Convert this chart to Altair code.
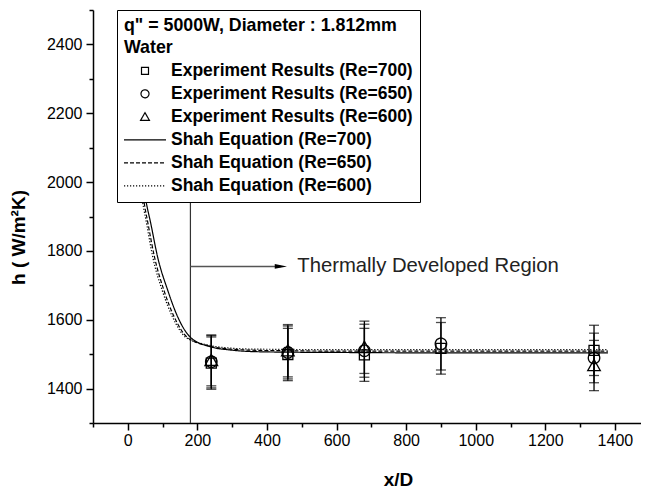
import altair as alt
import pandas as pd

# ---------------- data ----------------
series_names = [
    "Experiment Results (Re=700)",
    "Experiment Results (Re=650)",
    "Experiment Results (Re=600)",
    "Shah Equation (Re=700)",
    "Shah Equation (Re=650)",
    "Shah Equation (Re=600)",
]

exp_x_700 = [240, 460, 680, 900, 1340]
exp_h_700 = [1474, 1499, 1498, 1517, 1511]
exp_e_700 = [76, 76, 77, 75, 73]

exp_x_650 = [240, 460, 680, 900, 1340]
exp_h_650 = [1478, 1505, 1510, 1530, 1489]
exp_e_650 = [76, 77, 77, 76, 72]

exp_x_600 = [240, 460, 680, 1340]
exp_h_600 = [1482, 1510, 1520, 1467]
exp_e_600 = [74, 76, 76, 73]

shah_x_700 = [0, 10, 20, 30, 40, 52, 66, 86, 115, 144, 181, 239, 296, 345, 440, 600, 800, 1000, 1200, 1380]
shah_h_700 = [2600, 2380, 2220, 2110, 2030, 1947, 1880, 1781, 1685, 1607, 1548, 1521, 1512, 1508, 1506, 1505, 1504, 1504, 1504, 1504]

shah_x_650 = [-4, 6, 16, 26, 36, 46, 58, 77, 104, 134, 172, 232, 292, 345, 440, 600, 800, 1000, 1200, 1380]
shah_h_650 = [2600, 2380, 2220, 2110, 2030, 1947, 1880, 1781, 1685, 1607, 1548, 1524, 1515, 1512, 1510, 1509, 1509, 1509, 1509, 1509]

shah_x_600 = [-8, 2, 12, 22, 32, 42, 54, 72, 99, 129, 168, 228, 290, 345, 440, 600, 800, 1000, 1200, 1380]
shah_h_600 = [2600, 2380, 2220, 2110, 2030, 1947, 1880, 1781, 1685, 1607, 1548, 1527, 1518, 1515, 1514, 1513, 1513, 1513, 1513, 1513]

boundary_x = [180]
arrow_x = [180, 440]
arrow_h = [1755]
note_text = ["Thermally Developed Region"]
note_x = [487]

x_major = [0, 200, 400, 600, 800, 1000, 1200, 1400]
x_minor = [-100, 100, 300, 500, 700, 900, 1100, 1300, 1500]
y_major = [1400, 1600, 1800, 2000, 2200, 2400]
y_minor = [1300, 1500, 1700, 1900, 2100, 2300, 2500]

legend_title = ['q" = 5000W, Diameter : 1.812mm', "Water"]

# ---------------- tables ----------------
rows = []
for name, xs_, hs, es in [
    (series_names[0], exp_x_700, exp_h_700, exp_e_700),
    (series_names[1], exp_x_650, exp_h_650, exp_e_650),
    (series_names[2], exp_x_600, exp_h_600, exp_e_600),
]:
    for x, h, e in zip(xs_, hs, es):
        rows.append({"series": name, "x": x, "h": h, "lo": h - e, "hi": h + e})
exp_df = pd.DataFrame(rows)
cap_df = pd.concat([
    exp_df[["series", "x", "lo"]].rename(columns={"lo": "c"}),
    exp_df[["series", "x", "hi"]].rename(columns={"hi": "c"}),
])

lrows = []
for name, xs_, hs in [
    (series_names[3], shah_x_700, shah_h_700),
    (series_names[4], shah_x_650, shah_h_650),
    (series_names[5], shah_x_600, shah_h_600),
]:
    for i, (x, h) in enumerate(zip(xs_, hs)):
        lrows.append({"series": name, "x": x, "h": h, "i": i})
line_df = pd.DataFrame(lrows)

bound_df = pd.DataFrame({"x": boundary_x})
arrow_df = pd.DataFrame({"x": [arrow_x[0]], "x2": [arrow_x[1]], "h": arrow_h})
head_df = pd.DataFrame({"x": [arrow_x[1]], "h": arrow_h})
note_df = pd.DataFrame({"x": note_x, "h": arrow_h, "t": note_text})

# ---------------- scales ----------------
FONT = "Liberation Sans"
W, H = 548, 413
xs = alt.Scale(domain=[-100, 1475], nice=False, zero=False)
ys = alt.Scale(domain=[1300, 2500], nice=False, zero=False)

shape_range = [
    "M-0.269,-0.269H0.269V0.269H-0.269Z",
    "M0.308,0A0.308,0.308,0,1,1,-0.308,0A0.308,0.308,0,1,1,0.308,0Z",
    "M0,-0.323L0.339,0.275H-0.339Z",
    "M-1.615,0H1.615",
    "M-1.615,0H1.615",
    "M-1.615,0H1.615",
]
dash_range = [[1, 0], [1, 0], [1, 0], [1, 0], [4, 2], [1.2, 1.8]]

leg = alt.Legend(
    title=legend_title,
    orient="none",
    legendX=24,
    legendY=0,
    fillColor="white",
    strokeColor="black",
    padding=7,
    titleFont=FONT,
    titleFontSize=17.8,
    titleFontWeight="bold",
    titleColor="black",
    titleLineHeight=22,
    titlePadding=0,
    titleLimit=500,
    labelFont=FONT,
    labelFontSize=17.5,
    labelFontWeight="bold",
    labelColor="black",
    labelOffset=12,
    symbolOffset=7,
    rowPadding=0,
    symbolSize=676,
    symbolStrokeColor="black",
    symbolStrokeWidth=1.2,
    symbolFillColor="transparent",
    labelLimit=500,
)

shape_enc = alt.Shape("series:N", scale=alt.Scale(domain=series_names, range=shape_range), legend=leg, sort=series_names)
dash_enc = alt.StrokeDash("series:N", scale=alt.Scale(domain=series_names, range=dash_range), legend=leg, sort=series_names)

# main axes (layer of lines)
x_main = alt.X("x:Q", scale=xs, axis=alt.Axis(
    orient="bottom", values=x_major, format="d", title="x/D", grid=False,
    tickSize=7, tickWidth=1.5, domainWidth=1.5, domainColor="black", tickColor="black",
    labelFont=FONT, labelFontSize=16, labelColor="black", labelPadding=2, labelFlush=False,
    titleFont=FONT, titleFontSize=19, titleFontWeight="bold", titleColor="black",
    titleX=305, titleY=62, titleBaseline="alphabetic"))
y_main = alt.Y("h:Q", scale=ys, axis=alt.Axis(
    orient="left", values=y_major, format="d", title="h ( W/m²K)", grid=False,
    tickSize=7, tickWidth=1.5, domainWidth=1.5, domainColor="black", tickColor="black",
    labelFont=FONT, labelFontSize=16, labelColor="black", labelPadding=4, labelFlush=False,
    titleFont=FONT, titleFontSize=19, titleFontWeight="bold", titleColor="black",
    titleX=-75, titleY=227, titleAngle=-90, titleAlign="center", titleBaseline="middle"))

lines = alt.Chart(line_df).mark_line(color="black", strokeWidth=1.2, clip=True, interpolate="monotone").encode(
    x=x_main, y=y_main, strokeDash=dash_enc, detail="series:N", order="i:Q")

# boundary line + minor ticks
minor = alt.Chart(bound_df).mark_rule(color="#333333", strokeWidth=1.2).encode(
    x=alt.X("x:Q", scale=xs, axis=alt.Axis(orient="bottom", values=x_minor, labels=False, domain=False,
                                           grid=False, tickSize=4, tickWidth=1.5, tickColor="black", title=None)),
    y=alt.value(0), y2=alt.value(H))
minor_y = alt.Chart(bound_df).mark_rule(opacity=0).encode(
    y=alt.Y("x:Q", scale=ys, axis=alt.Axis(orient="left", values=y_minor, labels=False, domain=False,
                                           grid=False, tickSize=4, tickWidth=1.5, tickColor="black", title=None)),
    x=alt.value(0))

NX = alt.X("x:Q", scale=xs, axis=None)

err = alt.Chart(exp_df).mark_rule(color="black", strokeWidth=1.3).encode(
    x=NX, y=alt.Y("lo:Q", scale=ys, axis=None), y2="hi:Q")
caps = alt.Chart(cap_df).mark_tick(color="black", orient="horizontal", size=10, thickness=1.3).encode(
    x=NX, y=alt.Y("c:Q", scale=ys, axis=None))
pts = alt.Chart(exp_df).mark_point(filled=False, color="black", strokeWidth=1.3, size=1384, opacity=1).encode(
    x=NX, y=alt.Y("h:Q", scale=ys, axis=None), shape=shape_enc, strokeDash=dash_enc)

arrow = alt.Chart(arrow_df).mark_rule(color="#555555", strokeWidth=1.5).encode(
    x=NX, x2="x2:Q", y=alt.Y("h:Q", scale=ys, axis=None))
head = alt.Chart(head_df).mark_point(shape="M-1,-0.4L1,0L-1,0.4Z", filled=True, color="black", size=150, opacity=1).encode(
    x=NX, y=alt.Y("h:Q", scale=ys, axis=None))
note = alt.Chart(note_df).mark_text(align="left", baseline="middle", font=FONT, fontSize=20.3, color="#222222").encode(
    x=NX, y=alt.Y("h:Q", scale=ys, axis=None), text="t:N")

chart = alt.layer(minor, minor_y, lines, err, caps, pts, arrow, head, note).resolve_axis(
    x="independent", y="independent"
).properties(
    width=W, height=H,
    autosize=alt.AutoSizeParams(type="none"),
    padding={"left": 85, "top": 2, "right": 0, "bottom": 65},
).configure_view(stroke=None)

chart.save("out.html", embed_options={"renderer": "svg", "actions": False})
